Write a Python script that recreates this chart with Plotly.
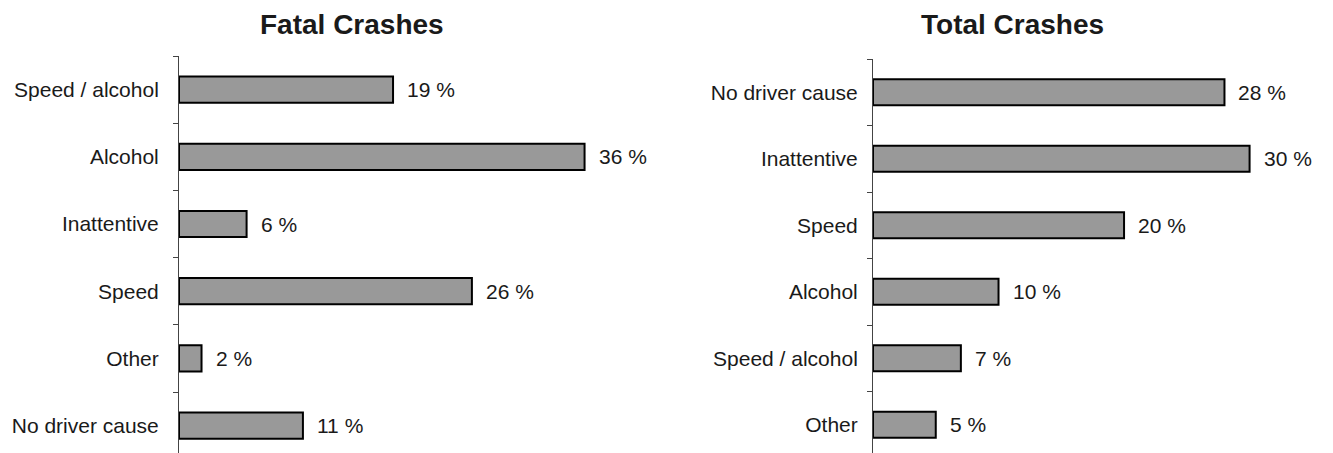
import plotly.graph_objects as go

# Share of crashes by primary cause
fatal_causes = ["Speed / alcohol", "Alcohol", "Inattentive", "Speed", "Other", "No driver cause"]
fatal_pct = [19, 36, 6, 26, 2, 11]

total_causes = ["No driver cause", "Inattentive", "Speed", "Alcohol", "Speed / alcohol", "Other"]
total_pct = [28, 30, 20, 10, 7, 5]

W, H = 1333, 453
FONT = "Liberation Sans, Arial, sans-serif"
TXT = "#1a1a1a"

fig = go.Figure()

panels = [
    dict(cats=fatal_causes, vals=fatal_pct, x="x", y="y", title="Fatal Crashes",
         x0=179, x1=633, xmax=40.3, ytop=56, spacing=67.2, title_x=352, standoff=15),
    dict(cats=total_causes, vals=total_pct, x="x2", y="y2", title="Total Crashes",
         x0=873, x1=1291, xmax=33.3, ytop=59, spacing=66.5, title_x=1012, standoff=10),
]

for i, p in enumerate(panels):
    fig.add_trace(go.Bar(
        x=p["vals"], y=p["cats"], orientation="h",
        xaxis=p["x"], yaxis=p["y"], width=0.39,
        marker=dict(color="#999999", line=dict(color="#000000", width=2)),
        showlegend=False, hoverinfo="skip",
    ))
    for c, v in zip(p["cats"], p["vals"]):
        fig.add_annotation(
            x=v, y=c, xref=p["x"], yref=p["y"], text=f"{v} %",
            showarrow=False, xanchor="left", xshift=12,
            font=dict(family=FONT, size=21, color=TXT),
        )
    fig.add_annotation(
        x=p["title_x"] / W, y=1 - 25 / H, xref="paper", yref="paper",
        text=f"<b>{p['title']}</b>", showarrow=False,
        xanchor="center", yanchor="middle",
        font=dict(family=FONT, size=28, color=TXT),
    )

    plot_h = H - p["ytop"]
    span = plot_h / p["spacing"]
    sfx = "" if i == 0 else "2"
    fig.update_layout(**{
        f"xaxis{sfx}": dict(domain=[p["x0"] / W, p["x1"] / W], range=[0, p["xmax"]],
                            visible=False, fixedrange=True),
        f"yaxis{sfx}": dict(domain=[0, plot_h / H], type="category",
                            categoryorder="array", categoryarray=p["cats"],
                            range=[span - 0.5, -0.5],
                            showline=True, linecolor="#444444", linewidth=1,
                            ticks="outside", tickson="boundaries", ticklen=5,
                            tickcolor="#444444", ticklabelstandoff=p["standoff"],
                            showgrid=False, zeroline=False,
                            tickfont=dict(family=FONT, size=21, color=TXT),
                            anchor=p["x"]),
    })

fig.update_layout(
    width=W, height=H,
    margin=dict(l=0, r=0, t=0, b=0),
    paper_bgcolor="white", plot_bgcolor="white",
)

fig.write_html("out.html")
